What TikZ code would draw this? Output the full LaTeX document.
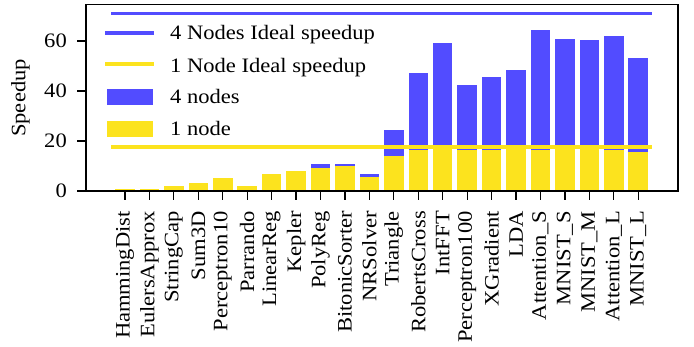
\documentclass[tikz,border=0pt]{standalone}
\usepackage{fontspec}
\setmainfont{Liberation Serif}[FakeStretch=1.1]
\definecolor{barblue}{RGB}{82,76,255}
\definecolor{baryellow}{RGB}{252,227,30}
\begin{document}
\begin{tikzpicture}[x=1pt,y=1pt,
  font=\fontsize{20.5}{24}\selectfont,
  lbl/.style={inner sep=0pt},
  ideal4/.style={barblue,line width=3.7pt},
  ideal1/.style={baryellow,line width=3.7pt},
  spine/.style={black,line width=1.3pt},
  tickmark/.style={black,line width=1.2pt}]
\useasboundingbox (0,0) rectangle (694,347);
\begin{scope}[shift={(125pt,156pt)}, x=24.44pt, y=2.5pt]
  % bars: index / 1 node / 4 nodes
  \foreach \i/\a/\b in {0/0.6/0.7, 1/0.6/0.7, 2/2.1/2.1, 3/3.3/3.3, 4/5.3/5.3,
      5/2.1/2.1, 6/6.9/6.9, 7/8.1/8.1, 8/9.3/10.9, 9/10.1/10.9, 10/5.6/6.9,
      11/14.1/24.4, 12/16.5/47.3, 13/17.8/59.2, 14/16.5/42.4, 15/16.5/45.6,
      16/17.8/48.4, 17/16.5/64.4, 18/17.8/60.8, 19/17.8/60.4, 20/16.5/62.0,
      21/15.7/53.2} {
    \fill[barblue] (\i-0.4,0) rectangle (\i+0.4,\b);
    \fill[baryellow] (\i-0.4,0) rectangle (\i+0.4,\a);
  }
  \coordinate (i4a) at (-0.57,71.0);
  \coordinate (i4b) at (21.57,71.0);
  \coordinate (i1a) at (-0.57,17.7);
  \coordinate (i1b) at (21.57,17.7);
  \draw[ideal4] (i4a) -- (i4b);
  \draw[ideal1] (i1a) -- (i1b);
  % frame
  \draw[spine] (-1.596,0) rectangle (22.63,74.6);
  % y ticks
  \foreach \v in {0,20,40,60} {
    \draw[tickmark] (-1.596,\v) -- ++(-9pt,0);
    \node[lbl,anchor=east] (yl\v) at ([xshift=-19pt]-1.596,\v) {\v};
  }
  % x ticks
  \foreach \i/\t in {0/HammingDist, 1/EulersApprox, 2/StringCap, 3/Sum3D,
      4/Perceptron10, 5/Parrando, 6/LinearReg, 7/Kepler, 8/PolyReg,
      9/BitonicSorter, 10/NRSolver, 11/Triangle, 12/RobertsCross, 13/IntFFT,
      14/Perceptron100, 15/XGradient, 16/LDA, 17/Attention\_S, 18/MNIST\_S,
      19/MNIST\_M, 20/Attention\_L, 21/MNIST\_L} {
    \draw[tickmark] (\i,0) -- ++(0,-9pt);
    \node[lbl,rotate=90,anchor=east] (xl\i) at ([yshift=-20pt]\i,0) {\t};
  }
\end{scope}
\node[lbl,rotate=90] (ylab) at (20.5,249) {Speedup};
% legend
\coordinate (l4a) at (105,313.7);
\coordinate (l4b) at (154,313.7);
\coordinate (l1a) at (105,282.7);
\coordinate (l1b) at (154,282.7);
\draw[ideal4] (l4a) -- (l4b);
\draw[ideal1] (l1a) -- (l1b);
\fill[barblue] (107,242) rectangle (153,258);
\fill[baryellow] (107,210) rectangle (153,226);
\node[lbl,anchor=base west] (t4i) at (170,307) {4 Nodes Ideal speedup};
\node[lbl,anchor=base west] (t1i) at (170,274.3) {1 Node Ideal speedup};
\node[lbl,anchor=base west] (t4n) at (170,243) {4 nodes};
\node[lbl,anchor=base west] (t1n) at (170,211.7) {1 node};
\end{tikzpicture}
\end{document}
